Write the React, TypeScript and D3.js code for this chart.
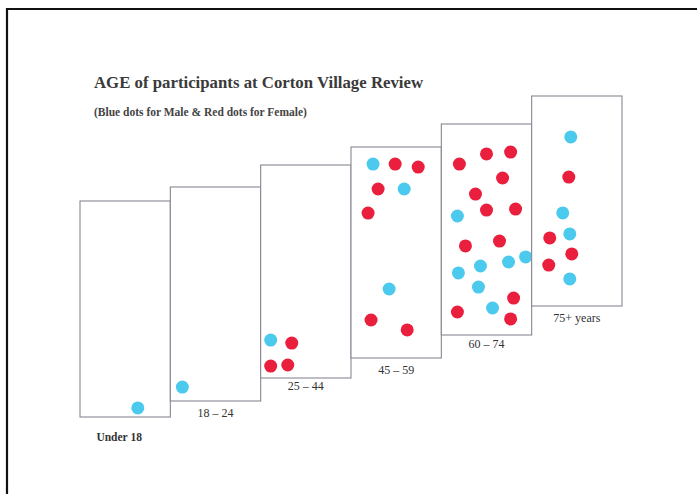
import React, { useEffect, useRef } from "react";
import * as d3 from "d3";

// age groups, left to right
const groups = ["Under 18", "18 – 24", "25 – 44", "45 – 59", "60 – 74", "75+ years"];

// dots per group: [u, v, sex] — u/v are the spot inside the card (0..100), sex M = blue, F = red
const under18: [number, number, string][] = [[64, 95.8, "M"]];
const age18to24: [number, number, string][] = [[13.3, 93.5, "M"]];
const age25to44: [number, number, string][] = [
    [11.1, 82.2, "M"],
    [34.4, 83.6, "F"],
    [11.1, 94.4, "F"],
    [30, 93.9, "F"],
];
const age45to59: [number, number, string][] = [
    [24.4, 8.1, "M"],
    [48.9, 8.1, "F"],
    [74.4, 9.5, "F"],
    [30, 19.9, "F"],
    [58.9, 19.9, "M"],
    [18.9, 31.3, "F"],
    [42.2, 67.3, "M"],
    [22.2, 82, "F"],
    [62.2, 86.7, "F"],
];
const age60to74: [number, number, string][] = [
    [20, 19, "F"],
    [50, 14.2, "F"],
    [76.7, 13.3, "F"],
    [67.8, 25.6, "F"],
    [37.8, 33.2, "F"],
    [17.8, 43.6, "M"],
    [50, 40.8, "F"],
    [82.2, 40.3, "F"],
    [26.7, 57.8, "F"],
    [64.4, 55.5, "F"],
    [18.9, 70.6, "M"],
    [43.3, 67.3, "M"],
    [74.4, 65.4, "M"],
    [93.3, 63, "M"],
    [41.1, 77.3, "M"],
    [80, 82.5, "F"],
    [17.8, 89.1, "F"],
    [56.7, 87.2, "M"],
    [76.7, 92.4, "F"],
];
const age75plus: [number, number, string][] = [
    [43.3, 19.5, "M"],
    [41.1, 38.6, "F"],
    [34.4, 55.7, "M"],
    [42.2, 65.7, "M"],
    [20, 67.6, "F"],
    [44.4, 75.2, "F"],
    [18.9, 80.5, "F"],
    [42.2, 87.1, "M"],
];
const dotsByGroup = [under18, age18to24, age25to44, age45to59, age60to74, age75plus];

const W = 697;
const H = 494;
// staircase layout of the cards (photo of a pinned-up display)
const cardTop = [201, 187, 165, 147, 124, 96];
const cardH = [216, 214, 213, 211, 211, 210];
const labelGap = [20, 12, 8, 12, 9, 12];

const App: React.FC = () => {
    const ref = useRef<SVGSVGElement>(null);

    useEffect(() => {
        if (!ref.current) return;
        const svg = d3.select(ref.current);
        svg.selectAll("*").remove();

        svg.append("rect").attr("width", W).attr("height", H).attr("fill", "#fff");

        // black frame, top and left only visible
        svg.append("path")
            .attr("d", `M7,${H} L7,9 L${W},9`)
            .attr("fill", "none")
            .attr("stroke", "#111")
            .attr("stroke-width", 2.2);

        svg.append("text")
            .attr("x", 94)
            .attr("y", 88)
            .attr("font-family", "Liberation Serif, serif")
            .attr("font-weight", "bold")
            .attr("font-size", 16.8)
            .attr("fill", "#3a3a3a")
            .text("AGE of participants at Corton Village Review");

        svg.append("text")
            .attr("x", 94)
            .attr("y", 116)
            .attr("font-family", "Liberation Serif, serif")
            .attr("font-weight", "bold")
            .attr("font-size", 11.5)
            .attr("fill", "#444")
            .text("(Blue dots for Male & Red dots for Female)");

        const x = d3.scaleBand<string>().domain(groups).range([80, 622]).padding(0);
        const colour = d3.scaleOrdinal<string, string>().domain(["M", "F"]).range(["#4ccaee", "#ea1f3d"]);

        groups.forEach((g, i) => {
            const left = x(g)!;
            const w = x.bandwidth();
            const top = cardTop[i];
            const h = cardH[i];
            const u = d3.scaleLinear().domain([0, 100]).range([left, left + w]);
            const v = d3.scaleLinear().domain([0, 100]).range([top, top + h]);

            const card = svg.append("g");
            card.append("rect")
                .attr("x", left)
                .attr("y", top)
                .attr("width", w)
                .attr("height", h)
                .attr("fill", "#fff")
                .attr("stroke", "#8b8592")
                .attr("stroke-width", 1.1);

            card.selectAll("circle")
                .data(dotsByGroup[i])
                .join("circle")
                .attr("cx", (d) => u(d[0]))
                .attr("cy", (d) => v(d[1]))
                .attr("r", 6.5)
                .attr("fill", (d) => colour(d[2]));

            svg.append("text")
                .attr("x", left + w / 2 - (i === 0 ? 6 : 0))
                .attr("y", top + h + labelGap[i] + 4)
                .attr("text-anchor", "middle")
                .attr("font-family", "Liberation Serif, serif")
                .attr("font-weight", i === 0 ? "bold" : "normal")
                .attr("font-size", i === 0 ? 11.5 : 12)
                .attr("fill", "#333")
                .text(g);
        });
    }, []);

    return (
        <svg
            ref={ref}
            width={W}
            height={H}
            style={{ position: "absolute", left: 0, top: 0, display: "block" }}
        />
    );
};

export default App;
